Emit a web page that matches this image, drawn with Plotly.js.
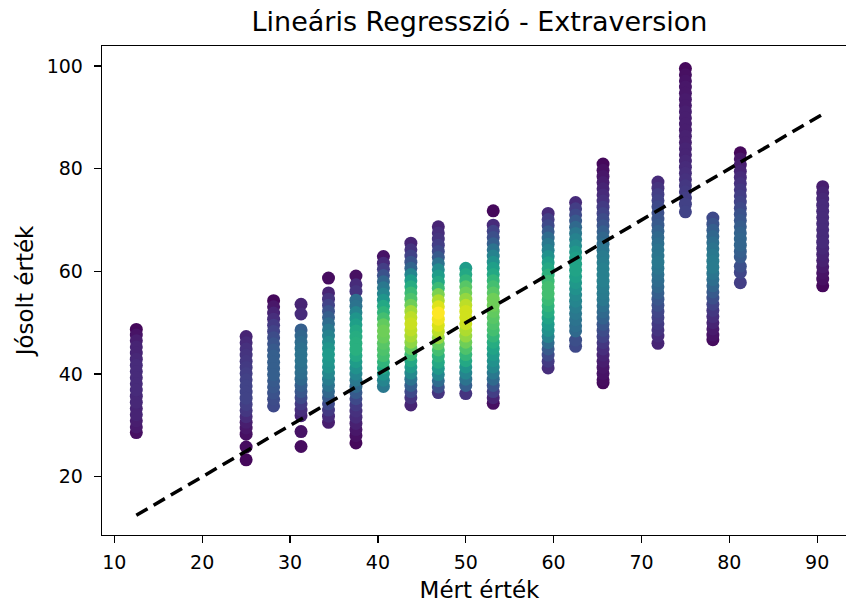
<!DOCTYPE html>
<html>
<head>
<meta charset="utf-8">
<script src="https://cdn.plot.ly/plotly-3.0.1.min.js"></script>
<style>html,body{margin:0;padding:0;background:#fff;overflow:hidden;width:846px;height:603px;}#chart{width:860px;height:603px;}</style>
</head>
<body>
<div id="chart"></div>
<script>
// Measured values (x) for each column of points
const mertErtek = [12.5, 25, 28.125, 31.25, 34.375, 37.5, 40.625, 43.75, 46.875, 50, 53.125, 59.375, 62.5, 65.625, 71.875, 75, 78.125, 81.25, 90.625];

// Predicted values (y) per column
const josoltErtek = [
  [48.7, 47.6, 46.5, 45.3, 44.1, 42.9, 41.7, 40.5, 39.3, 38.1, 36.9, 35.7, 34.5, 33.3, 32.1, 30.9, 29.7, 28.6],
  [47.3, 46.1, 44.9, 43.7, 42.5, 41.3, 40.1, 38.9, 37.7, 36.5, 35.3, 34.1, 32.9, 31.7, 30.6, 29.5, 28.3, 25.8, 23.3],
  [54.3, 53.1, 51.9, 50.7, 49.5, 48.3, 47.1, 45.9, 44.7, 43.5, 42.3, 41.1, 39.9, 38.7, 37.5, 36.3, 35.1, 33.8],
  [53.6, 51.7, 48.6, 47.4, 46.2, 45.0, 43.8, 42.6, 41.4, 40.2, 39.0, 37.8, 36.6, 35.4, 34.2, 33.0, 31.9, 28.8, 25.9],
  [58.7, 55.8, 54.6, 53.4, 52.2, 51.0, 49.8, 48.6, 47.4, 46.2, 45.0, 43.8, 42.6, 41.4, 40.2, 39.0, 37.8, 36.6, 35.4, 34.2, 33.0, 31.8, 30.6],
  [59.1, 57.4, 56.1, 54.4, 53.2, 52.0, 50.8, 49.6, 48.4, 47.2, 46.0, 44.8, 43.6, 42.4, 41.2, 40.0, 38.8, 37.6, 36.4, 35.2, 34.0, 32.8, 31.6, 30.4, 29.2, 28.0, 26.6],
  [62.9, 61.6, 60.4, 59.2, 58.0, 56.8, 55.6, 54.4, 53.2, 52.0, 50.8, 49.6, 48.4, 47.2, 46.0, 44.8, 43.6, 42.4, 41.2, 40.0, 38.8, 37.6],
  [65.5, 64.2, 63.0, 61.8, 60.6, 59.4, 58.2, 57.0, 55.8, 54.6, 53.4, 52.2, 51.0, 49.8, 48.6, 47.4, 46.2, 45.0, 43.8, 42.6, 41.4, 40.2, 39.0, 37.8, 36.6, 35.4, 34.0],
  [68.7, 67.5, 66.3, 65.1, 63.9, 62.7, 61.5, 60.3, 59.1, 57.9, 56.7, 55.5, 54.3, 53.1, 51.9, 50.7, 49.5, 48.3, 47.1, 45.9, 44.7, 43.5, 42.3, 41.1, 39.9, 38.7, 37.5, 36.4],
  [60.6, 59.4, 58.2, 57.0, 55.8, 54.6, 53.4, 52.2, 51.0, 49.8, 48.6, 47.4, 46.2, 45.0, 43.8, 42.6, 41.4, 40.2, 39.0, 37.8, 36.2],
  [71.8, 69.0, 67.8, 66.6, 65.4, 64.2, 63.0, 61.8, 60.6, 59.4, 58.2, 57.0, 55.8, 54.6, 53.4, 52.2, 51.0, 49.8, 48.6, 47.4, 46.2, 45.0, 43.8, 42.6, 41.4, 40.2, 39.0, 37.8, 36.6, 35.4, 34.3],
  [71.3, 70.1, 68.9, 67.7, 66.5, 65.3, 64.1, 62.9, 61.7, 60.5, 59.3, 58.1, 56.9, 55.7, 54.5, 53.3, 52.1, 50.9, 49.7, 48.5, 47.3, 46.1, 44.9, 43.7, 42.5, 41.2],
  [73.4, 72.2, 71.0, 69.8, 68.6, 67.4, 66.2, 65.0, 63.8, 62.6, 61.4, 60.2, 59.0, 57.8, 56.6, 55.4, 54.2, 53.0, 51.8, 50.6, 49.4, 48.4, 46.6, 45.4],
  [80.9, 79.7, 78.5, 77.3, 76.1, 74.9, 73.7, 72.5, 71.3, 70.1, 68.9, 67.7, 66.5, 65.3, 64.1, 62.9, 61.7, 60.5, 59.3, 58.1, 56.9, 55.7, 54.5, 53.3, 52.1, 50.9, 49.7, 48.5, 47.3, 46.1, 44.9, 43.7, 42.5, 41.3, 40.1, 38.9, 38.3],
  [77.4, 76.2, 75.0, 73.8, 72.6, 71.4, 70.2, 69.0, 67.8, 66.6, 65.4, 64.2, 63.0, 61.8, 60.6, 59.4, 58.2, 57.0, 55.8, 54.6, 53.4, 52.2, 51.0, 49.8, 48.6, 47.4, 46.0],
  [99.5, 98.3, 97.1, 95.9, 94.7, 93.5, 92.3, 91.1, 89.9, 88.7, 87.5, 86.3, 85.1, 83.9, 82.7, 81.5, 80.3, 79.1, 77.9, 76.7, 75.5, 74.3, 73.1, 71.6],
  [70.4, 69.2, 68.0, 66.8, 65.6, 64.4, 63.2, 62.0, 60.8, 59.6, 58.4, 57.2, 56.0, 54.8, 53.6, 52.4, 51.2, 50.0, 48.8, 47.6, 46.7],
  [83.1, 81.9, 80.7, 79.5, 78.3, 77.1, 75.9, 74.7, 73.5, 72.3, 71.1, 69.9, 68.7, 67.5, 66.3, 65.1, 63.9, 62.8, 61.0, 59.8, 57.8],
  [76.5, 75.3, 74.1, 72.9, 71.7, 70.5, 69.3, 68.1, 66.9, 65.7, 64.5, 63.3, 62.1, 60.9, 59.7, 58.5, 57.2]
];

// Point density (colour value, 0..1 on viridis) per point
const suruseg = [
  [0.02, 0.05, 0.08, 0.1, 0.1, 0.11, 0.12, 0.12, 0.12, 0.12, 0.12, 0.11, 0.11, 0.1, 0.1, 0.08, 0.07, 0.04],
  [0.1, 0.12, 0.14, 0.15, 0.16, 0.17, 0.18, 0.19, 0.2, 0.2, 0.2, 0.18, 0.16, 0.12, 0.08, 0.06, 0.04, 0.03, 0.02],
  [0.02, 0.06, 0.1, 0.13, 0.17, 0.2, 0.23, 0.26, 0.28, 0.3, 0.3, 0.3, 0.3, 0.28, 0.27, 0.25, 0.23, 0.22],
  [0.1, 0.12, 0.3, 0.33, 0.35, 0.37, 0.38, 0.38, 0.37, 0.36, 0.34, 0.3, 0.27, 0.22, 0.17, 0.13, 0.1, 0.05, 0.03],
  [0.03, 0.1, 0.15, 0.2, 0.25, 0.3, 0.35, 0.4, 0.44, 0.48, 0.52, 0.54, 0.52, 0.5, 0.46, 0.42, 0.38, 0.33, 0.28, 0.22, 0.17, 0.12, 0.08],
  [0.04, 0.12, 0.15, 0.36, 0.38, 0.45, 0.52, 0.56, 0.6, 0.62, 0.63, 0.63, 0.6, 0.55, 0.5, 0.45, 0.4, 0.34, 0.28, 0.22, 0.17, 0.14, 0.12, 0.09, 0.06, 0.04, 0.02],
  [0.05, 0.12, 0.18, 0.25, 0.33, 0.4, 0.45, 0.52, 0.6, 0.65, 0.7, 0.76, 0.78, 0.77, 0.74, 0.72, 0.7, 0.65, 0.6, 0.52, 0.45, 0.4],
  [0.1, 0.15, 0.2, 0.26, 0.32, 0.45, 0.55, 0.62, 0.68, 0.72, 0.78, 0.86, 0.9, 0.92, 0.9, 0.87, 0.83, 0.76, 0.68, 0.6, 0.54, 0.47, 0.38, 0.3, 0.22, 0.15, 0.1],
  [0.1, 0.13, 0.15, 0.18, 0.22, 0.28, 0.38, 0.48, 0.55, 0.6, 0.68, 0.8, 0.88, 0.95, 1.0, 0.98, 0.94, 0.9, 0.84, 0.76, 0.7, 0.64, 0.6, 0.53, 0.45, 0.35, 0.25, 0.15],
  [0.55, 0.6, 0.66, 0.74, 0.78, 0.84, 0.9, 0.93, 0.93, 0.92, 0.88, 0.84, 0.78, 0.72, 0.66, 0.6, 0.52, 0.45, 0.38, 0.3, 0.15],
  [0.02, 0.12, 0.2, 0.24, 0.3, 0.38, 0.44, 0.5, 0.56, 0.6, 0.66, 0.7, 0.74, 0.78, 0.78, 0.76, 0.74, 0.72, 0.7, 0.66, 0.62, 0.58, 0.54, 0.5, 0.46, 0.4, 0.34, 0.26, 0.18, 0.1, 0.04],
  [0.12, 0.18, 0.22, 0.28, 0.35, 0.4, 0.44, 0.5, 0.56, 0.6, 0.64, 0.68, 0.7, 0.7, 0.68, 0.65, 0.62, 0.58, 0.54, 0.5, 0.44, 0.35, 0.28, 0.22, 0.17, 0.13],
  [0.12, 0.18, 0.22, 0.28, 0.34, 0.4, 0.44, 0.48, 0.53, 0.56, 0.58, 0.58, 0.56, 0.53, 0.5, 0.47, 0.45, 0.42, 0.4, 0.38, 0.36, 0.34, 0.24, 0.22],
  [0.02, 0.04, 0.06, 0.08, 0.1, 0.12, 0.14, 0.17, 0.2, 0.23, 0.26, 0.3, 0.33, 0.36, 0.39, 0.41, 0.42, 0.43, 0.43, 0.43, 0.42, 0.41, 0.4, 0.37, 0.34, 0.31, 0.27, 0.23, 0.2, 0.16, 0.13, 0.1, 0.08, 0.06, 0.05, 0.03, 0.02],
  [0.12, 0.15, 0.18, 0.2, 0.22, 0.24, 0.26, 0.28, 0.31, 0.34, 0.36, 0.38, 0.39, 0.4, 0.39, 0.37, 0.35, 0.33, 0.3, 0.27, 0.24, 0.21, 0.19, 0.17, 0.15, 0.12, 0.1],
  [0.02, 0.04, 0.05, 0.06, 0.06, 0.07, 0.07, 0.08, 0.08, 0.08, 0.08, 0.09, 0.09, 0.1, 0.1, 0.11, 0.12, 0.13, 0.14, 0.16, 0.17, 0.18, 0.19, 0.2],
  [0.22, 0.26, 0.3, 0.33, 0.36, 0.38, 0.4, 0.41, 0.41, 0.39, 0.36, 0.32, 0.28, 0.24, 0.2, 0.16, 0.13, 0.1, 0.07, 0.05, 0.03],
  [0.02, 0.06, 0.08, 0.1, 0.12, 0.14, 0.16, 0.18, 0.2, 0.22, 0.25, 0.27, 0.29, 0.31, 0.32, 0.32, 0.3, 0.28, 0.24, 0.21, 0.18],
  [0.08, 0.1, 0.11, 0.12, 0.12, 0.12, 0.12, 0.12, 0.12, 0.12, 0.11, 0.1, 0.09, 0.07, 0.05, 0.04, 0.02]
];

// Ideal line endpoints (min and max of measured values)
const idealisVonal = [12.5, 90.625];

// Flatten and sort by density so the densest points are drawn on top
const pts = [];
mertErtek.forEach((xv, i) => {
  josoltErtek[i].forEach((yv, j) => pts.push([xv, yv, suruseg[i][j]]));
});
pts.sort((a, b) => a[2] - b[2]);

const scatter = {
  type: 'scatter', mode: 'markers',
  x: pts.map(p => p[0]), y: pts.map(p => p[1]),
  marker: {
    size: 13, color: pts.map(p => p[2]), colorscale: 'Viridis',
    cmin: 0, cmax: 1, line: {width: 0}, opacity: 1
  },
  hoverinfo: 'x+y', showlegend: false
};

const line = {
  type: 'scatter', mode: 'lines',
  x: idealisVonal, y: idealisVonal,
  line: {color: 'black', width: 3.5, dash: '13px,7px'},
  showlegend: false, hoverinfo: 'skip'
};

const font = 'DejaVu Sans, sans-serif';
const axisCommon = {
  showline: true, mirror: true, linecolor: 'black', linewidth: 1.3,
  ticks: 'outside', ticklen: 7, tickwidth: 1.3, tickcolor: 'black',
  showgrid: false, zeroline: false,
  tickfont: {family: font, size: 19, color: 'black'}
};

// Axes area extends past the right edge of the 846px window (as in the reference)
const layout = {
  width: 860, height: 603,
  margin: {l: 102, r: 3, t: 46, b: 67.5},
  paper_bgcolor: 'white', plot_bgcolor: 'white',
  font: {family: font, color: 'black'},
  title: {text: 'Lineáris Regresszió - Extraversion', font: {family: font, size: 27, color: 'black'},
          x: 0.5, xref: 'paper', y: 1 - 22/603, yref: 'container', yanchor: 'middle'},
  xaxis: Object.assign({}, axisCommon, {
    range: [8.594, 94.53], tickvals: [10, 20, 30, 40, 50, 60, 70, 80, 90],
    ticklabelstandoff: 3,
    title: {text: 'Mért érték', font: {family: font, size: 23, color: 'black'}, standoff: 12}
  }),
  yaxis: Object.assign({}, axisCommon, {
    range: [8.66, 103.9], tickvals: [20, 40, 60, 80, 100],
    ticklabelstandoff: 7,
    title: {text: 'Jósolt érték', font: {family: font, size: 23, color: 'black'}, standoff: 6}
  })
};

Plotly.newPlot('chart', [scatter, line], layout, {staticPlot: true, displayModeBar: false});
</script>
</body>
</html>
